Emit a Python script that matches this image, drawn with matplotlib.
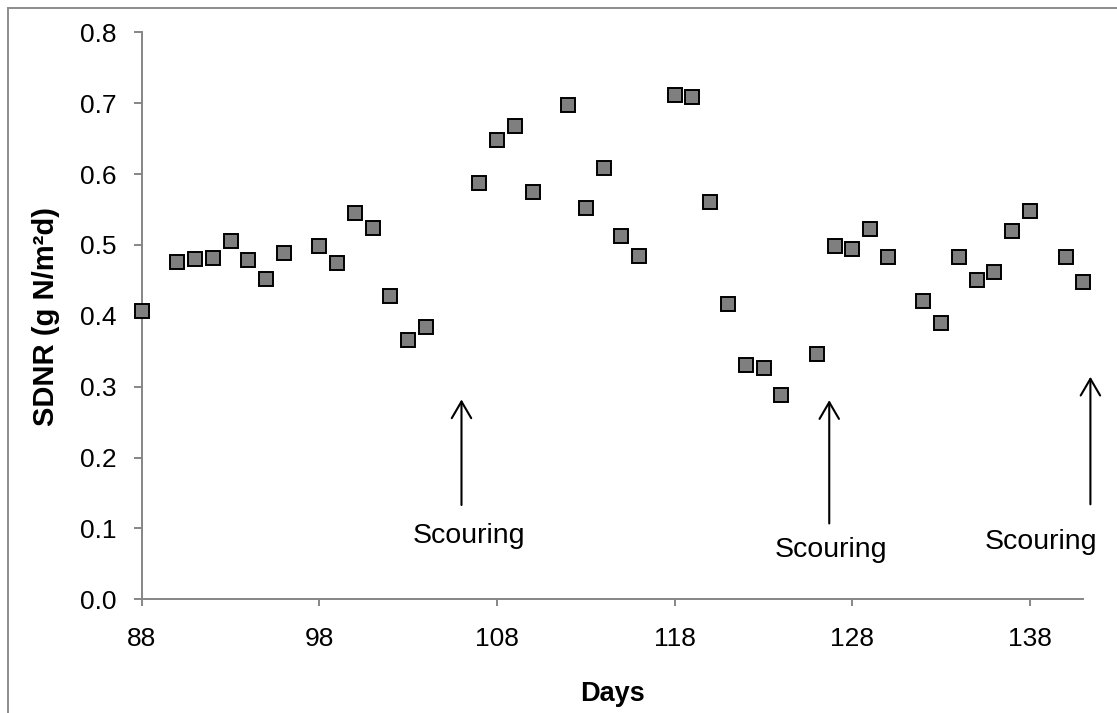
import matplotlib
matplotlib.use("Agg")
import matplotlib.pyplot as plt
from matplotlib.patches import Rectangle
from matplotlib.ticker import FormatStrFormatter

plt.rcParams['font.family'] = ['Liberation Sans', 'DejaVu Sans']

# Specific denitrification rate per sampling day
days = [88, 90, 91, 92, 93, 94, 95, 96, 98, 99, 100, 101, 102, 103, 104,
        107, 108, 109, 110, 112, 113, 114, 115, 116, 118, 119, 120, 121,
        122, 123, 124, 126, 127, 128, 129, 130, 132, 133, 134, 135, 136,
        137, 138, 140, 141]
sdnr = [0.407, 0.476, 0.480, 0.482, 0.506, 0.479, 0.452, 0.488, 0.498,
        0.474, 0.545, 0.524, 0.428, 0.366, 0.384, 0.587, 0.648, 0.668,
        0.574, 0.697, 0.552, 0.609, 0.513, 0.484, 0.711, 0.709, 0.561,
        0.416, 0.331, 0.327, 0.288, 0.346, 0.499, 0.494, 0.522, 0.483,
        0.421, 0.390, 0.483, 0.451, 0.462, 0.520, 0.548, 0.483, 0.447]

# Scouring events: arrow x, tail y, tip y, label x, label y
scour_x = [106.0, 126.7, 141.4]
scour_tail = [0.133, 0.107, 0.134]
scour_tip = [0.282, 0.281, 0.314]
scour_label_x = [106.4, 126.8, 138.6]
scour_label_y = [0.090, 0.069, 0.081]

x_ticks = [88, 98, 108, 118, 128, 138]
y_ticks = [0.0, 0.1, 0.2, 0.3, 0.4, 0.5, 0.6, 0.7, 0.8]

W, H = 1117, 713
axis_grey = '#868686'


def draw():
    fig = plt.figure(figsize=(W / 100, H / 100), dpi=100, facecolor='white')
    left, right = 141.7 / W, 1083.3 / W
    bottom, top = 1 - 599.3 / H, 1 - 32.3 / H
    ax = fig.add_axes([left, bottom, right - left, top - bottom])

    # chart-area frame (runs off the right and bottom edges)
    fig.patches.append(Rectangle((8 / W, -0.1), 1.2, 1 - 8 / H + 0.1,
                                 transform=fig.transFigure, fill=False,
                                 edgecolor='#8c8c8c', linewidth=1.4))

    ax.plot(days, sdnr, linestyle='none', marker='s', markersize=10.6,
            markerfacecolor='#7f7f7f', markeredgecolor='black',
            markeredgewidth=1.4, clip_on=False, zorder=3)

    ax.set_xlim(88, 141)
    ax.set_ylim(0, 0.8)
    ax.set_xticks(x_ticks)
    ax.set_yticks(y_ticks)
    ax.yaxis.set_major_formatter(FormatStrFormatter('%.1f'))

    for side in ('top', 'right'):
        ax.spines[side].set_visible(False)
    for side in ('left', 'bottom'):
        ax.spines[side].set_color(axis_grey)
        ax.spines[side].set_linewidth(1.4)

    ax.tick_params(axis='x', direction='out', length=5, width=1.4,
                   color=axis_grey, labelsize=19, pad=15)
    ax.tick_params(axis='y', direction='out', length=6, width=1.4,
                   color=axis_grey, labelsize=19, pad=12)

    ax.set_xlabel('Days', fontsize=19.5, fontweight='bold')
    ax.xaxis.set_label_coords(0.5, (599.3 - 694) / (599.3 - 32.3))
    ax.xaxis.label.set_va('center')
    fig.text(46 / W, 1 - 316 / H, 'SDNR (g N/m\u00b2d)', rotation=90,
             ha='center', va='center', fontsize=21, fontweight='bold')

    for x, y0, y1, lx, ly in zip(scour_x, scour_tail, scour_tip,
                                 scour_label_x, scour_label_y):
        ax.annotate('', xy=(x, y1), xytext=(x, y0),
                    arrowprops=dict(arrowstyle='->,head_length=0.6,head_width=0.35',
                                    color='black', lw=1.5, shrinkA=0, shrinkB=0,
                                    mutation_scale=20),
                    annotation_clip=False)
        ax.text(lx, ly, 'Scouring', ha='center', va='center', fontsize=20.5,
                clip_on=False)

    return fig


if __name__ == '__main__':
    fig = draw()
    fig.savefig('out.png', dpi=100, facecolor='white')
    plt.close(fig)
